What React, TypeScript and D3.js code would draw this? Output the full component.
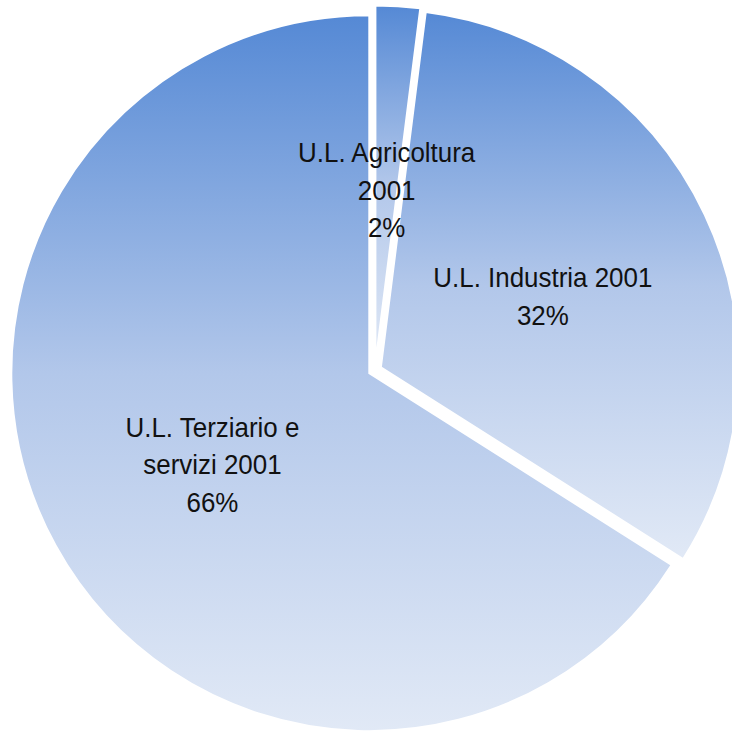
import React from "react";
import * as d3 from "d3";

const categories = ["U.L. Agricoltura 2001", "U.L. Industria 2001", "U.L. Terziario e servizi 2001"];
const values = [2, 32, 66];
const labelLines = [
  ["U.L. Agricoltura", "2001", "2%"],
  ["U.L. Industria 2001", "32%"],
  ["U.L. Terziario e", "servizi 2001", "66%"],
];

const W = 732;
const H = 733;
const CX = 375;
const CY = 370;
const R = 358;
const EXPLODE = 6.5;
const LINE_H = 37.5;

export default function App() {
  const pie = d3.pie<number>().sort(null).startAngle(0).endAngle(2 * Math.PI);
  const arcs = pie(values);
  const arc = d3.arc<d3.PieArcDatum<number>>().innerRadius(0).outerRadius(R);
  const labelArc = d3.arc<d3.PieArcDatum<number>>().innerRadius(R * 0.5).outerRadius(R * 0.5);

  const offs = arcs.map((a) => {
    const mid = (a.startAngle + a.endAngle) / 2;
    return [CX + EXPLODE * Math.sin(mid), CY - EXPLODE * Math.cos(mid)];
  });

  return (
    <svg
      width={W}
      height={H}
      style={{ position: "absolute", left: 0, top: 0, display: "block" }}
      fontFamily="'Liberation Sans', Arial, sans-serif"
    >
      <defs>
        <linearGradient id="sliceGrad" x1="0" y1="0" x2="0" y2="1">
          <stop offset="0" stopColor="#5589d5" />
          <stop offset="0.5" stopColor="#b2c7ea" />
          <stop offset="1" stopColor="#e1e9f6" />
        </linearGradient>
      </defs>
      <rect x={0} y={0} width={W} height={H} fill="#ffffff" />
      {arcs.map((a, i) => (
        <g key={categories[i]} transform={`translate(${offs[i][0]},${offs[i][1]})`}>
          <path d={arc(a) || ""} fill="url(#sliceGrad)" stroke="#ffffff" strokeWidth={2} />
        </g>
      ))}
      {arcs.map((a, i) => {
        const [lx, ly] = labelArc.centroid(a);
        const lines = labelLines[i];
        const first = ly - ((lines.length - 1) / 2) * LINE_H + 15;
        return (
          <g key={"l" + i} transform={`translate(${offs[i][0]},${offs[i][1]})`}>
            {lines.map((t, j) => (
              <text
                key={j}
                textAnchor="middle"
                fontSize={28.5}
                fill="#111111"
                transform={`translate(${lx},${first + j * LINE_H}) scale(0.91,1)`}
              >
                {t}
              </text>
            ))}
          </g>
        );
      })}
    </svg>
  );
}
